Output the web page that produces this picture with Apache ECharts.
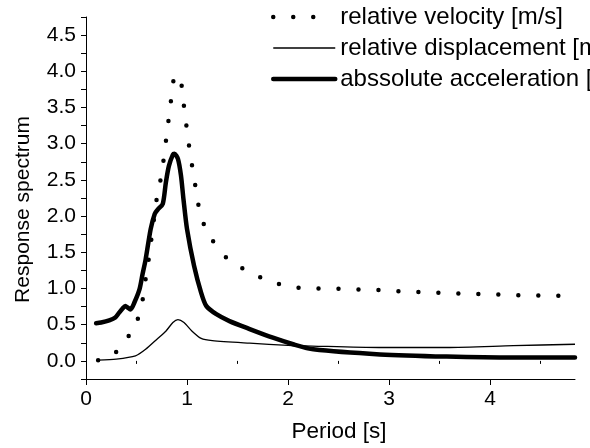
<!DOCTYPE html>
<html lang="en">
<head>
    <meta charset="UTF-8">
    <title>Response spectrum</title>
    <script src="https://cdn.jsdelivr.net/npm/echarts@6.0.0/dist/echarts.min.js"></script>
    <style>
        html, body { margin: 0; padding: 0; background: #fff; }
        #main { width: 590px; height: 448px; }
    </style>
</head>
<body>
<div id="main"></div>
<script type="text/javascript">
    var seriesNames = ['relative velocity [m/s]', 'relative displacement [m]', 'abssolute acceleration [g]'];

    var velPeriod = [0.12, 0.28, 0.38, 0.43, 0.51, 0.56, 0.59, 0.62, 0.66, 0.70, 0.74, 0.77, 0.795, 0.82, 0.845, 0.87, 0.90, 0.94, 0.965, 0.99, 1.015, 1.04, 1.07, 1.10, 1.14, 1.24, 1.40, 1.60, 1.80, 2.00, 2.20, 2.40, 2.60, 2.80, 3.00, 3.20, 3.40, 3.60, 3.80, 4.00, 4.20, 4.40, 4.60, 4.84];
    var velValues = [0.01, 0.10, 0.26, 0.36, 0.57, 0.84, 1.13, 1.40, 1.82, 2.24, 2.52, 2.80, 3.08, 3.36, 3.64, 3.90, 3.95, 3.85, 3.57, 3.29, 3.02, 2.78, 2.53, 2.26, 1.98, 1.69, 1.41, 1.24, 1.11, 1.03, 1.00, 1.00, 0.99, 0.985, 0.97, 0.955, 0.945, 0.935, 0.925, 0.92, 0.91, 0.905, 0.90, 0.90];

    var dispPeriod = [0.12, 0.30, 0.49, 0.59, 0.71, 0.79, 0.86, 0.91, 0.97, 1.05, 1.14, 1.25, 1.62, 2.00, 2.24, 2.90, 3.57, 4.23, 4.84];
    var dispValues = [0.01, 0.025, 0.07, 0.16, 0.31, 0.41, 0.53, 0.57, 0.53, 0.41, 0.31, 0.28, 0.245, 0.215, 0.205, 0.185, 0.185, 0.21, 0.23];

    var accPeriod = [0.10, 0.15, 0.23, 0.29, 0.33, 0.36, 0.39, 0.41, 0.44, 0.48, 0.53, 0.56, 0.59, 0.64, 0.68, 0.71, 0.76, 0.79, 0.82, 0.86, 0.875, 0.91, 0.94, 0.965, 1.00, 1.07, 1.14, 1.19, 1.29, 1.42, 1.62, 1.85, 2.05, 2.25, 2.91, 3.57, 4.23, 4.84];
    var accValues = [0.52, 0.53, 0.56, 0.60, 0.67, 0.72, 0.76, 0.74, 0.71, 0.81, 0.99, 1.20, 1.40, 1.82, 2.03, 2.09, 2.17, 2.46, 2.69, 2.85, 2.86, 2.79, 2.56, 2.23, 1.82, 1.31, 0.94, 0.76, 0.645, 0.55, 0.44, 0.32, 0.23, 0.16, 0.09, 0.06, 0.047, 0.047];

    var xLabels = [0, 1, 2, 3, 4];
    var xMinorTicks = [0.5, 1.5, 2.5, 3.5, 4.5];
    var yLabels = [0, 0.5, 1, 1.5, 2, 2.5, 3, 3.5, 4, 4.5];

    var pairs = function (xs, ys) {
        return xs.map(function (x, i) { return [x, ys[i]]; });
    };

    var font = '"Liberation Sans", Arial, sans-serif';
    var myChart = echarts.init(document.getElementById('main'));

    var option = {
        animation: false,
        backgroundColor: '#fff',
        textStyle: { fontFamily: font, color: '#000' },
        grid: { left: 86, right: 15, top: 17, bottom: 68 },
        legend: {
            orient: 'vertical',
            left: 271,
            top: 4,
            padding: 0,
            itemWidth: 62,
            itemHeight: 14,
            itemGap: 5,
            // hide the round marker echarts puts in the middle of line icons
            itemStyle: { opacity: 0 },
            textStyle: { fontFamily: font, fontSize: 24, color: '#000', lineHeight: 26 },
            data: [
                { name: seriesNames[0], lineStyle: { type: [0, 20, 0, 20, 0, 100], cap: 'round', width: 4.5, color: '#000' } },
                { name: seriesNames[1], lineStyle: { width: 1.3, color: '#000' } },
                { name: seriesNames[2], lineStyle: { width: 4.5, color: '#000' } }
            ]
        },
        xAxis: [{
            type: 'value',
            min: 0,
            max: 4.84,
            name: 'Period [s]',
            nameLocation: 'middle',
            nameGap: 41,
            nameTextStyle: { fontFamily: font, fontSize: 22.5, color: '#000', padding: [0, 0, 0, 17] },
            axisLine: { onZero: false, lineStyle: { color: '#000', width: 1 } },
            axisTick: { length: 6, lineStyle: { color: '#000' }, customValues: xLabels },
            axisLabel: { fontFamily: font, fontSize: 21, color: '#000', margin: 10, customValues: xLabels },
            splitLine: { show: false }
        }, {
            // minor ticks only
            type: 'value',
            position: 'bottom',
            min: 0,
            max: 4.84,
            axisLine: { show: false },
            axisTick: { length: 3, lineStyle: { color: '#000' }, customValues: xMinorTicks },
            axisLabel: { show: false },
            splitLine: { show: false }
        }],
        yAxis: {
            type: 'value',
            min: -0.25,
            max: 4.75,
            interval: 0.25,
            name: 'Response spectrum',
            nameLocation: 'middle',
            nameGap: 52,
            nameTextStyle: { fontFamily: font, fontSize: 21, color: '#000', padding: [0, 23, 0, 0] },
            axisLine: { show: true, onZero: false, lineStyle: { color: '#000', width: 1 } },
            axisTick: { show: true, length: 5, lineStyle: { color: '#000' } },
            axisLabel: {
                fontFamily: font, fontSize: 21, color: '#000', margin: 10,
                customValues: yLabels,
                formatter: function (v) { return v.toFixed(1); }
            },
            splitLine: { show: false }
        },
        series: [{
            name: seriesNames[0],
            type: 'line',
            data: pairs(velPeriod, velValues),
            symbol: 'none',
            smooth: 0.25,
            lineStyle: { color: '#000', width: 4.5, type: [0, 20], cap: 'round' },
            itemStyle: { color: '#000' }
        }, {
            name: seriesNames[1],
            type: 'line',
            data: pairs(dispPeriod, dispValues),
            symbol: 'none',
            smooth: 0.25,
            lineStyle: { color: '#000', width: 1.3 },
            itemStyle: { color: '#000' }
        }, {
            name: seriesNames[2],
            type: 'line',
            data: pairs(accPeriod, accValues),
            symbol: 'none',
            smooth: 0.25,
            lineStyle: { color: '#000', width: 4.5, cap: 'round', join: 'round' },
            itemStyle: { color: '#000' }
        }]
    };
    myChart.setOption(option);
</script>
</body>
</html>
